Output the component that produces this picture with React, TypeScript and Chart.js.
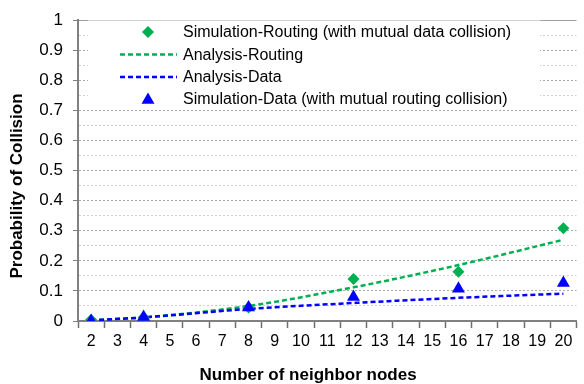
import React, { useEffect, useRef } from 'react';
import { Chart, registerables } from 'chart.js';

Chart.register(...registerables);

const xLabels = ['2', '3', '4', '5', '6', '7', '8', '9', '10', '11', '12', '13', '14', '15', '16', '17', '18', '19', '20'];
const nodes = ['2', '4', '8', '12', '16', '20'];
const simRouting = [0.004, 0.012, 0.045, 0.14, 0.164, 0.308];
const analysisRouting = [0.003, 0.012, 0.05, 0.112, 0.186, 0.27];
const analysisData = [0.002, 0.012, 0.04, 0.06, 0.077, 0.091];
const simData = [0.0, 0.013, 0.045, 0.08, 0.107, 0.126];

const seriesNames = [
  'Simulation-Routing (with mutual data collision)',
  'Analysis-Routing',
  'Analysis-Data',
  'Simulation-Data (with mutual routing collision)',
];
const yTitle = 'Probability of Collision';
const xTitle = 'Number of neighbor nodes';

const GREEN = '#00b050';
const BLUE = '#0000ff';
const FONT = "'Liberation Sans', Arial, sans-serif";

const toPoints = (vals: number[]) => nodes.map((n, i) => ({ x: n, y: vals[i] }));

function drawDiamond(ctx: CanvasRenderingContext2D, x: number, y: number, r: number, color: string) {
  ctx.beginPath();
  ctx.moveTo(x, y - r);
  ctx.lineTo(x + r, y);
  ctx.lineTo(x, y + r);
  ctx.lineTo(x - r, y);
  ctx.closePath();
  ctx.fillStyle = color;
  ctx.fill();
}

function drawTriangle(ctx: CanvasRenderingContext2D, x: number, y: number, r: number, color: string) {
  ctx.beginPath();
  ctx.moveTo(x, y - r);
  ctx.lineTo(x + r * 0.866, y + r * 0.5);
  ctx.lineTo(x - r * 0.866, y + r * 0.5);
  ctx.closePath();
  ctx.fillStyle = color;
  ctx.fill();
}

const overlayPlugin = {
  id: 'overlay',
  afterDraw(chart: any) {
    const ctx: CanvasRenderingContext2D = chart.ctx;
    ctx.save();
    // legend box
    ctx.fillStyle = '#ffffff';
    ctx.fillRect(88, 20.5, 452, 86);
    const rows = [32, 54.5, 77, 99];
    const textX = 183;
    ctx.font = `16px ${FONT}`;
    ctx.textBaseline = 'middle';
    ctx.textAlign = 'left';
    seriesNames.forEach((name, i) => {
      ctx.fillStyle = '#000';
      ctx.fillText(name, textX, rows[i] + 1);
    });
    drawDiamond(ctx, 148, rows[0], 6, GREEN);
    ctx.lineWidth = 2.5;
    ctx.setLineDash([5, 3]);
    ctx.strokeStyle = GREEN;
    ctx.beginPath();
    ctx.moveTo(120, rows[1]);
    ctx.lineTo(177, rows[1]);
    ctx.stroke();
    ctx.strokeStyle = BLUE;
    ctx.beginPath();
    ctx.moveTo(120, rows[2]);
    ctx.lineTo(177, rows[2]);
    ctx.stroke();
    ctx.setLineDash([]);
    drawTriangle(ctx, 148, rows[3] + 1, 7.5, BLUE);

    // axis titles
    ctx.fillStyle = '#000';
    ctx.font = `bold 17px ${FONT}`;
    ctx.textAlign = 'center';
    ctx.textBaseline = 'middle';
    ctx.fillText(xTitle, 308, 375);
    ctx.translate(17, 186);
    ctx.rotate(-Math.PI / 2);
    ctx.fillText(yTitle, 0, 0);
    ctx.restore();
  },
};

const isMajor = (v: number) => Math.round(v * 100) % 10 === 0;

export default function App() {
  const ref = useRef<HTMLCanvasElement | null>(null);
  useEffect(() => {
    if (!ref.current) return;
    const chart = new Chart(ref.current, {
      type: 'line',
      data: {
        labels: xLabels,
        datasets: [
          {
            label: seriesNames[0],
            data: toPoints(simRouting),
            showLine: false,
            pointStyle: 'rectRot',
            pointRadius: 6,
            backgroundColor: GREEN,
            borderColor: GREEN,
            borderWidth: 0,
            order: 1,
          },
          {
            label: seriesNames[1],
            data: toPoints(analysisRouting),
            borderColor: GREEN,
            borderDash: [5, 3],
            borderWidth: 2.5,
            pointRadius: 0,
            cubicInterpolationMode: 'monotone',
            spanGaps: true,
            order: 3,
          },
          {
            label: seriesNames[2],
            data: toPoints(analysisData),
            borderColor: BLUE,
            borderDash: [5, 3],
            borderWidth: 2.5,
            pointRadius: 0,
            cubicInterpolationMode: 'monotone',
            spanGaps: true,
            order: 2,
          },
          {
            label: seriesNames[3],
            data: toPoints(simData),
            showLine: false,
            pointStyle: 'triangle',
            pointRadius: 7.5,
            backgroundColor: BLUE,
            borderColor: BLUE,
            borderWidth: 0,
            order: 0,
          },
        ],
      },
      options: {
        responsive: false,
        animation: false,
        devicePixelRatio: 1,
        layout: { padding: { top: 19, right: 3, left: 0, bottom: 0 } },
        plugins: {
          legend: { display: false },
          tooltip: { enabled: false },
        },
        scales: {
          x: {
            type: 'category',
            offset: true,
            grid: {
              offset: true,
              drawOnChartArea: false,
              drawTicks: true,
              tickLength: 7,
              tickColor: '#6f6f6f',
              tickWidth: 1.5,
            },
            border: { display: true, color: '#808080', width: 2 },
            ticks: {
              color: '#000',
              font: { size: 16, family: FONT },
              padding: 4,
              autoSkip: false,
              maxRotation: 0,
            },
            afterFit: (scale: any) => {
              scale.height = 63;
            },
          },
          y: {
            min: 0,
            max: 1,
            ticks: {
              stepSize: 0.05,
              maxTicksLimit: 30,
              autoSkip: false,
              color: '#000',
              font: { size: 17, family: FONT },
              padding: 10,
              callback: (v: any) => (isMajor(Number(v)) ? String(Math.round(Number(v) * 10) / 10) : ''),
            },
            grid: {
              drawTicks: true,
              tickLength: 5,
              lineWidth: 1,
              color: (c: any) => {
                const v = c.tick ? c.tick.value : 0;
                if (Math.abs(v - 1) < 1e-6) return '#a0a0a0';
                return isMajor(v) ? '#a8a8a8' : '#cfcfcf';
              },
              tickColor: (c: any) => {
                const v = c.tick ? c.tick.value : 0;
                return isMajor(v) ? '#808080' : 'rgba(0,0,0,0)';
              },
              tickBorderDash: [],
            },
            border: {
              display: true,
              color: '#808080',
              width: 2,
              dash: (c: any) => {
                const v = c.tick ? c.tick.value : 0;
                return Math.abs(v - 1) < 1e-6 ? [] : [2, 2];
              },
            },
            afterFit: (scale: any) => {
              scale.width = 78;
            },
          },
        },
      },
      plugins: [overlayPlugin],
    } as any);
    return () => chart.destroy();
  }, []);
  return (
    <div style={{ position: 'fixed', left: 0, top: 0, width: 584, height: 384, background: '#fff' }}>
      <canvas ref={ref} width={584} height={384} style={{ width: 584, height: 384, display: 'block' }} />
    </div>
  );
}
